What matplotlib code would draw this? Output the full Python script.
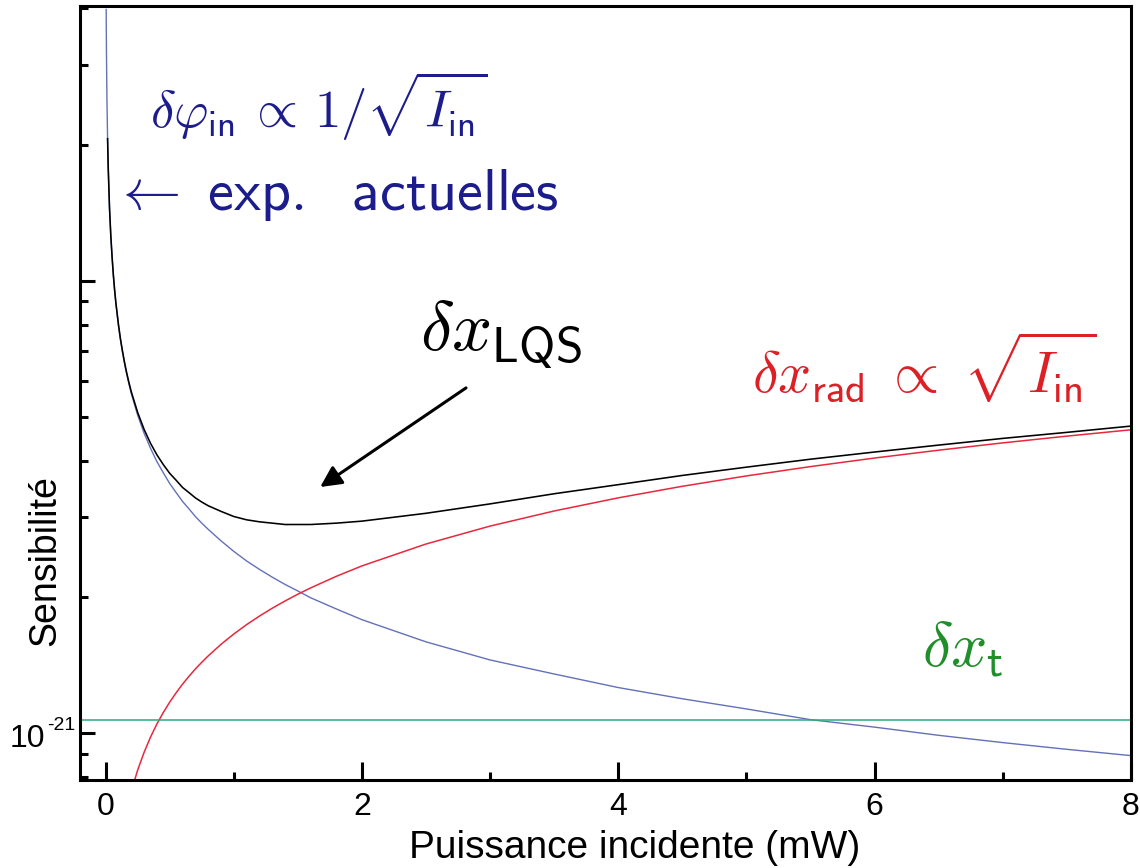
import numpy as np
import matplotlib
matplotlib.use("Agg")
import matplotlib.pyplot as plt
from matplotlib.ticker import LogLocator, NullFormatter, FixedLocator

plt.rcParams['font.family'] = ['Liberation Sans', 'DejaVu Sans']
plt.rcParams['mathtext.fontset'] = 'cm'

# values (power in mW, sensitivity in units of 1e-21)
p_blue = [0.004, 0.006, 0.01, 0.015, 0.02, 0.03, 0.04, 0.05, 0.06, 0.07, 0.08, 0.1,
          0.115, 0.13, 0.145, 0.16, 0.18, 0.2, 0.25, 0.3, 0.35, 0.4, 0.45, 0.5, 0.55,
          0.6, 0.65, 0.7, 0.75, 0.8, 0.9, 1.0, 1.1, 1.2, 1.3, 1.4, 1.5, 1.6, 1.8, 2.0,
          2.5, 3.0, 3.5, 4.0, 4.5, 5.0, 5.5, 6.0, 6.5, 7.0, 7.5, 8.0]
phi_in = [39.8, 32.5, 25.2, 20.6, 17.8, 14.5, 12.6, 11.3, 10.29, 9.52, 8.91, 7.97,
          7.43, 6.99, 6.62, 6.30, 5.94, 5.63, 5.04, 4.60, 4.26, 3.98, 3.76, 3.56, 3.40,
          3.25, 3.13, 3.01, 2.91, 2.82, 2.66, 2.52, 2.40, 2.30, 2.21, 2.13, 2.06, 1.99, 1.88, 1.78,
          1.59, 1.45, 1.35, 1.26, 1.19, 1.13, 1.07, 1.03, 0.988, 0.952, 0.920, 0.891]

p_red = [0.2, 0.22, 0.25, 0.3, 0.35, 0.4, 0.45, 0.5, 0.55, 0.6, 0.65, 0.7, 0.75, 0.8,
         0.9, 1.0, 1.1, 1.2, 1.3, 1.4, 1.5, 1.6, 1.8, 2.0,
         2.5, 3.0, 3.5, 4.0, 4.5, 5.0, 5.5, 6.0, 6.5, 7.0, 7.5, 8.0]
x_rad = [0.740, 0.776, 0.828, 0.906, 0.979, 1.047, 1.110, 1.170, 1.227, 1.282, 1.334,
         1.385, 1.433, 1.480, 1.570, 1.655, 1.736, 1.813, 1.887, 1.958, 2.027,
         2.093, 2.220, 2.341, 2.617, 2.867, 3.096, 3.310, 3.511, 3.701, 3.881, 4.054,
         4.219, 4.379, 4.532, 4.681]

p_lqs = [0.015, 0.02, 0.03, 0.04, 0.05, 0.06, 0.07, 0.08, 0.1, 0.115, 0.13, 0.145, 0.16,
         0.18, 0.2, 0.25, 0.3, 0.35, 0.4, 0.45, 0.5, 0.55, 0.6, 0.65, 0.7, 0.75, 0.8,
         0.9, 1.0, 1.1, 1.2, 1.3, 1.4, 1.5, 1.6, 1.8, 2.0, 2.5, 3.0, 3.5, 4.0, 4.5,
         5.0, 5.5, 6.0, 6.5, 7.0, 7.5, 8.0]
x_lqs = [20.6, 17.8, 14.5, 12.6, 11.3, 10.30, 9.53, 8.92, 7.99, 7.45, 7.02, 6.65, 6.33,
         5.98, 5.68, 5.11, 4.69, 4.37, 4.12, 3.92, 3.75, 3.62, 3.49, 3.40, 3.31, 3.24, 3.18,
         3.09, 3.01, 2.96, 2.93, 2.91, 2.89, 2.89, 2.89, 2.91, 2.94, 3.06, 3.21, 3.38,
         3.54, 3.71, 3.87, 4.03, 4.18, 4.33, 4.48, 4.62, 4.77]

x_t = 1.068   # thermal noise level

scale = 1e-21

fig = plt.figure(figsize=(11.4, 8.68), dpi=100)
ax = fig.add_axes([0.0702, 0.1014, 0.9218, 0.8917])

ax.plot(p_blue, np.array(phi_in) * scale, color='#6470b8', lw=1.0)
ax.plot(p_red, np.array(x_rad) * scale, color='#e8283c', lw=1.1)
ax.axhline(x_t * scale, color='#2bab7a', lw=1.1)
ax.plot(p_lqs, np.array(x_lqs) * scale, color='black', lw=1.15)

ax.set_yscale('log')
ax.set_xlim(-0.2, 8)
ax.set_ylim(0.787e-21, 4.05e-20)

ax.set_xticks([0, 2, 4, 6, 8])
ax.xaxis.set_minor_locator(FixedLocator([1, 3, 5, 7]))
ax.yaxis.set_major_locator(FixedLocator([1e-21, 1e-20]))
ax.set_yticklabels(['', ''])
ax.yaxis.set_minor_locator(LogLocator(base=10, subs=np.arange(2, 10)))
ax.yaxis.set_minor_formatter(NullFormatter())

ax.tick_params(which='both', direction='in', width=2.2, labelsize=23)
ax.tick_params(which='major', length=11, pad=9)
ax.tick_params(axis='x', which='major', length=13)
ax.tick_params(which='minor', length=6)
for s in ax.spines.values():
    s.set_linewidth(2.2)

# label of the 1e-21 tick, written like the original (hyphen, small exponent)
fig.text(0.0395, 0.1394, '10', fontsize=23, ha='right', va='baseline')
fig.text(0.0412, 0.159, '-21', fontsize=14, ha='left', va='baseline')

ax.set_xlabel('Puissance incidente (mW)', fontsize=28, va='center')
ax.xaxis.set_label_coords(0.528, -0.0879)
ax.set_ylabel('Sensibilité', fontsize=27, va='center')
ax.yaxis.set_label_coords(-0.0333, 0.284)

navy = '#1c1c8c'
ax.text(0.0666, 0.842, r'$\delta\varphi_{\mathsf{in}}\,\propto\,1/\sqrt{I_{\mathsf{in}}}$',
        transform=ax.transAxes, fontsize=38, color=navy, va='baseline')
ax.text(0.030, 0.736, r'$\leftarrow\ \mathsf{exp.\ \ actuelles}$',
        transform=ax.transAxes, fontsize=42, color=navy, va='baseline')
ax.text(0.3235, 0.556, r'$\delta x_{\mathsf{LQS}}$',
        transform=ax.transAxes, fontsize=51, color='black', va='baseline')
ax.text(0.639, 0.501, r'$\delta x_{\mathsf{rad}}\;\propto\;\sqrt{I_{\mathsf{in}}}$',
        transform=ax.transAxes, fontsize=42, color='#dd1f26', va='baseline')
ax.text(0.801, 0.146, r'$\delta x_{\mathsf{t}}$',
        transform=ax.transAxes, fontsize=46, color='#1f8f2a', va='baseline')

ax.annotate('', xy=(1.656, 3.47e-21), xytext=(2.83, 5.84e-21),
            arrowprops=dict(arrowstyle='-|>', lw=2.2, color='black', mutation_scale=32))

fig.savefig('out.png', dpi=100)
